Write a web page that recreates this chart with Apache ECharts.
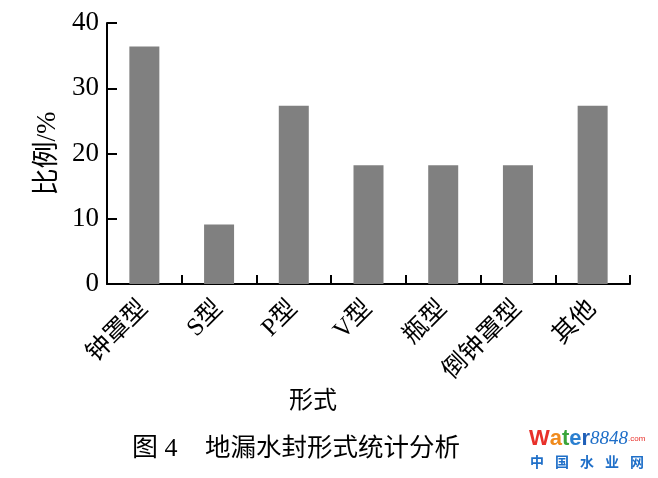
<!DOCTYPE html>
<html>
<head>
<meta charset="utf-8">
<script src="https://cdn.jsdelivr.net/npm/echarts@6/dist/echarts.min.js"></script>
<style>
html,body{margin:0;padding:0;background:#fff;}
#c{width:658px;height:478px;}
</style>
</head>
<body>
<div id="c"></div>
<script>
const categories = ['钟罩型', 'S型', 'P型', 'V型', '瓶型', '倒钟罩型', '其他'];
const values = [36.4, 9.1, 27.3, 18.2, 18.2, 18.2, 27.3];
const yTicks = [0, 10, 20, 30, 40];
const yName = '比例/%';
const xName = '形式';
const captionNo = '图 4';
const captionText = '地漏水封形式统计分析';
const logoChars = ['中', '国', '水', '业', '网'];

const FONT = "'Liberation Serif', 'Noto Sans CJK SC', serif";
const chart = echarts.init(document.getElementById('c'));

const logoRow = logoChars.map((ch, i) => ({
  type: 'text', left: 530 + i * 25, top: 455,
  style: { text: ch, fill: '#1f6fc8', fontSize: 14, fontWeight: 'bold', fontFamily: "'Noto Sans CJK SC'" }
}));

chart.setOption({
  backgroundColor: '#fff',
  animation: false,
  grid: { left: 107, right: 28, top: 23, bottom: 194, containLabel: false },
  xAxis: {
    type: 'category',
    data: categories,
    boundaryGap: true,
    axisLine: { lineStyle: { color: '#000', width: 2 } },
    axisTick: { show: true, inside: true, length: 9, lineStyle: { color: '#000', width: 2 } },
    axisLabel: { rotate: 45, margin: 21, color: '#000', fontSize: 25, fontFamily: FONT, interval: 0 },
    splitLine: { show: false }
  },
  yAxis: {
    type: 'value',
    min: yTicks[0],
    max: yTicks[yTicks.length - 1],
    interval: 10,
    name: yName,
    nameLocation: 'middle',
    nameGap: 41,
    nameRotate: 90,
    nameTextStyle: { color: '#000', fontSize: 27, fontFamily: FONT },
    axisLine: { show: true, lineStyle: { color: '#000', width: 2 } },
    axisTick: { show: true, inside: true, length: 10, lineStyle: { color: '#000', width: 2 } },
    axisLabel: { margin: 8, color: '#000', fontSize: 27, fontFamily: FONT },
    splitLine: { show: false }
  },
  series: [{
    type: 'bar',
    data: values,
    barWidth: 30,
    itemStyle: { color: '#808080' }
  }],
  graphic: [
    {
      type: 'text', left: 289, top: 390,
      style: { text: xName, fill: '#000', fontSize: 24, fontFamily: FONT }
    },
    {
      type: 'text', left: 132, top: 436,
      style: { text: captionNo, fill: '#000', fontSize: 26, fontFamily: FONT }
    },
    {
      type: 'text', left: 205, top: 437,
      style: { text: captionText, fill: '#000', fontSize: 25.5, fontFamily: FONT }
    },
    {
      type: 'text', left: 529, top: 428,
      style: {
        text: '{w|W}{a|a}{t|t}{e|e}{r|r}{n|8848}{c|.com}',
        rich: {
          w: { fill: '#e8302a', fontSize: 22, fontWeight: 'bold', fontFamily: 'Liberation Sans' },
          a: { fill: '#f08a1c', fontSize: 22, fontWeight: 'bold', fontFamily: 'Liberation Sans' },
          t: { fill: '#3aa53a', fontSize: 22, fontWeight: 'bold', fontFamily: 'Liberation Sans' },
          e: { fill: '#2a7fd0', fontSize: 22, fontWeight: 'bold', fontFamily: 'Liberation Sans' },
          r: { fill: '#1f5fb8', fontSize: 22, fontWeight: 'bold', fontFamily: 'Liberation Sans' },
          n: { fill: '#1f6fc8', fontSize: 19, fontStyle: 'italic', fontFamily: 'Liberation Serif' },
          c: { fill: '#e8302a', fontSize: 8, fontFamily: 'Liberation Sans' }
        }
      }
    }
  ].concat(logoRow)
});
</script>
</body>
</html>
